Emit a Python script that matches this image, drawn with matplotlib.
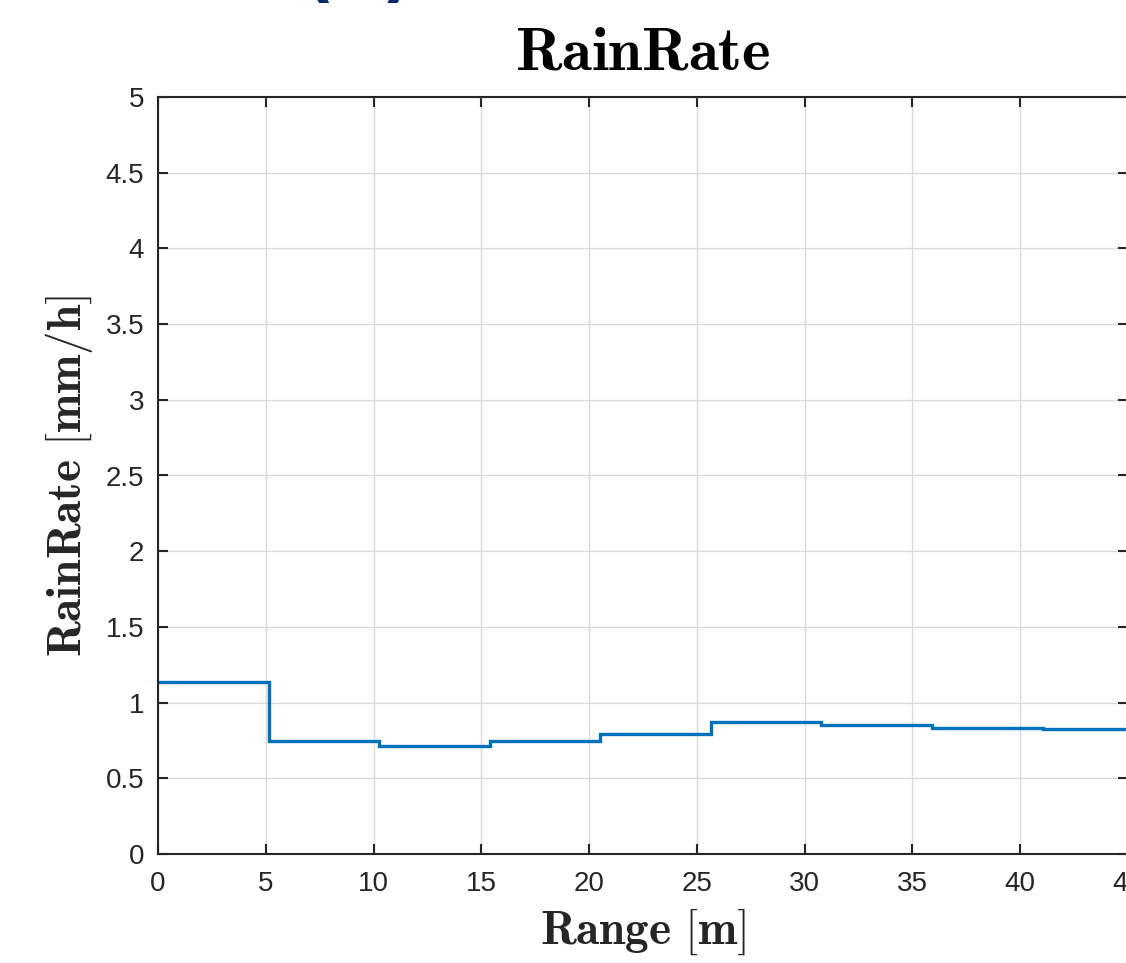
import matplotlib
matplotlib.use('Agg')
import matplotlib.pyplot as plt
import numpy as np

# range bin edges [m] and rain rate per bin [mm/h]
range_edges = [0, 5.13, 10.26, 15.39, 20.52, 25.65, 30.78, 35.91, 41.04, 46.17]
rain_rate = [1.136, 0.748, 0.713, 0.748, 0.79, 0.872, 0.852, 0.832, 0.823]
xticks = [0, 5, 10, 15, 20, 25, 30, 35, 40, 45]
yticks = [0, 0.5, 1, 1.5, 2, 2.5, 3, 3.5, 4, 4.5, 5]

plt.rcParams['mathtext.fontset'] = 'cm'
plt.rcParams['font.family'] = ['Liberation Sans', 'DejaVu Sans']

fig = plt.figure(figsize=(11.26, 9.63), dpi=100)
ax = fig.add_axes([158 / 1126, 1 - 854 / 963, 970 / 1126, 757 / 963])

ax.stairs(rain_rate, range_edges, color='#0072BD', linewidth=2.4, baseline=None)

ax.set_xlim(0, 45)
ax.set_ylim(0, 5)
ax.set_xticks(xticks)
ax.set_yticks(yticks)
ax.set_xticklabels([str(t) for t in xticks])
ax.set_yticklabels(['0', '0.5', '1', '1.5', '2', '2.5', '3', '3.5', '4', '4.5', '5'])
ax.grid(True, color='#dadada', linewidth=1.0)
ax.set_axisbelow(True)

ax.tick_params(direction='in', length=7, width=1.5, colors='#262626',
               labelsize=20, top=True, right=True)
ax.tick_params(axis='x', pad=12)
ax.tick_params(axis='y', pad=10)
for s in ax.spines.values():
    s.set_color('#262626')
    s.set_linewidth(1.5)

ax.set_title(r'$\mathbf{RainRate}$', fontsize=44, pad=20, color='black')
ax.set_xlabel(r'$\mathbf{Range\ [m]}$', fontsize=34, color='#262626')
ax.set_ylabel(r'$\mathbf{RainRate\ [mm/h]}$', fontsize=34, color='#262626')
ax.xaxis.set_label_coords(0.5, -0.070)
ax.yaxis.set_label_coords(-0.065, 0.5)

# panel letter, mostly outside the crop
fig.text(0.318, 1 + 6 / 963, '(a)', fontsize=50, fontweight='bold',
         family='DejaVu Sans', color='#0a2a6e', ha='center', va='baseline')

fig.savefig('out.png', dpi=100)
